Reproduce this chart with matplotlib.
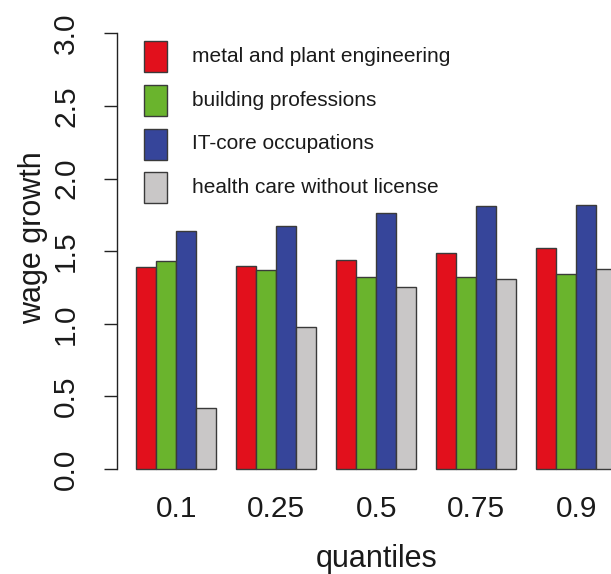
import matplotlib
matplotlib.use("Agg")
import matplotlib.pyplot as plt
from matplotlib.patches import Rectangle
from matplotlib.transforms import blended_transform_factory

plt.rcParams['font.family'] = ['Liberation Sans', 'DejaVu Sans']

quantiles = ["0.1", "0.25", "0.5", "0.75", "0.9"]
series = ["metal and plant engineering", "building professions",
          "IT-core occupations", "health care without license"]
metal = [1.39, 1.40, 1.44, 1.49, 1.52]
building = [1.43, 1.37, 1.32, 1.32, 1.34]
it_core = [1.64, 1.67, 1.76, 1.81, 1.82]
health = [0.42, 0.98, 1.25, 1.31, 1.38]
values = [metal, building, it_core, health]
colors = ["#E2101C", "#6AB42D", "#36459A", "#C9C7C7"]
yticks = [0.0, 0.5, 1.0, 1.5, 2.0, 2.5, 3.0]

W, H = 611, 574
fig = plt.figure(figsize=(W / 100, H / 100), dpi=100)

# axes geometry in pixels (R-style barplot region, 4% padding)
px_per_unit_x = 20.0
x_lo, x_hi = 0.04, 0.04 + (W - 117.0) / px_per_unit_x
y0_px, y3_px = 469.0, 33.3
ppu_y = (y0_px - y3_px) / 3.0
y_lo, y_hi = -0.12, 3.12
bottom_px = y0_px + 0.12 * ppu_y
top_px = y3_px - 0.12 * ppu_y
ax = fig.add_axes([117.0 / W, (H - bottom_px) / H, 1 - 117.0 / W,
                   (bottom_px - top_px) / H])
ax.set_xlim(x_lo, x_hi)
ax.set_ylim(y_lo, y_hi)

n_series = len(values)
group_width = n_series + 1
for j, (vals, col) in enumerate(zip(values, colors)):
    lefts = [1 + group_width * k + j for k in range(len(quantiles))]
    ax.bar(lefts, vals, width=1.0, align='edge', color=col,
           edgecolor='#3a3a3a', linewidth=1.0, clip_on=False)

for s in ['top', 'right', 'bottom']:
    ax.spines[s].set_visible(False)
ax.spines['left'].set_bounds(0, 3)
ax.spines['left'].set_linewidth(1.0)
ax.spines['left'].set_color('#222222')

ax.set_yticks(yticks)
ax.set_yticklabels([f"{t:.1f}" for t in yticks], rotation=90, va='center',
                   fontsize=21.5, color='#1a1a1a')
ax.tick_params(axis='y', length=9.5, width=1.0, color='#222222', pad=17)

centers = [1 + group_width * k + n_series / 2 for k in range(len(quantiles))]
ax.set_xticks(centers)
ax.set_xticklabels(quantiles, fontsize=21.5, color='#1a1a1a')
ax.tick_params(axis='x', length=0, pad=6)

# axis titles
xc = 1 + group_width * 2 + n_series / 2
ax.text(xc, 7.0 / H, "quantiles", fontsize=22, color='#1a1a1a',
        ha='center', va='baseline',
        transform=blended_transform_factory(ax.transData, fig.transFigure))
fig.text(33.0 / W, 1 - 238.0 / H, "wage growth", rotation=90, fontsize=22,
         color='#1a1a1a', ha='center', va='center')

# legend
row_centers = [56.5, 100.5, 144.0, 187.5]
for name, col, yc in zip(series, colors, row_centers):
    fig.patches.append(Rectangle((143.5 / W, 1 - (yc + 15.5) / H), 23.0 / W,
                                 31.0 / H, transform=fig.transFigure,
                                 facecolor=col, edgecolor='#3a3a3a',
                                 linewidth=1.0))
    fig.text(191.5 / W, 1 - yc / H, name, fontsize=15.0, color='#1a1a1a',
             ha='left', va='center')

fig.savefig("out.png", dpi=100)
